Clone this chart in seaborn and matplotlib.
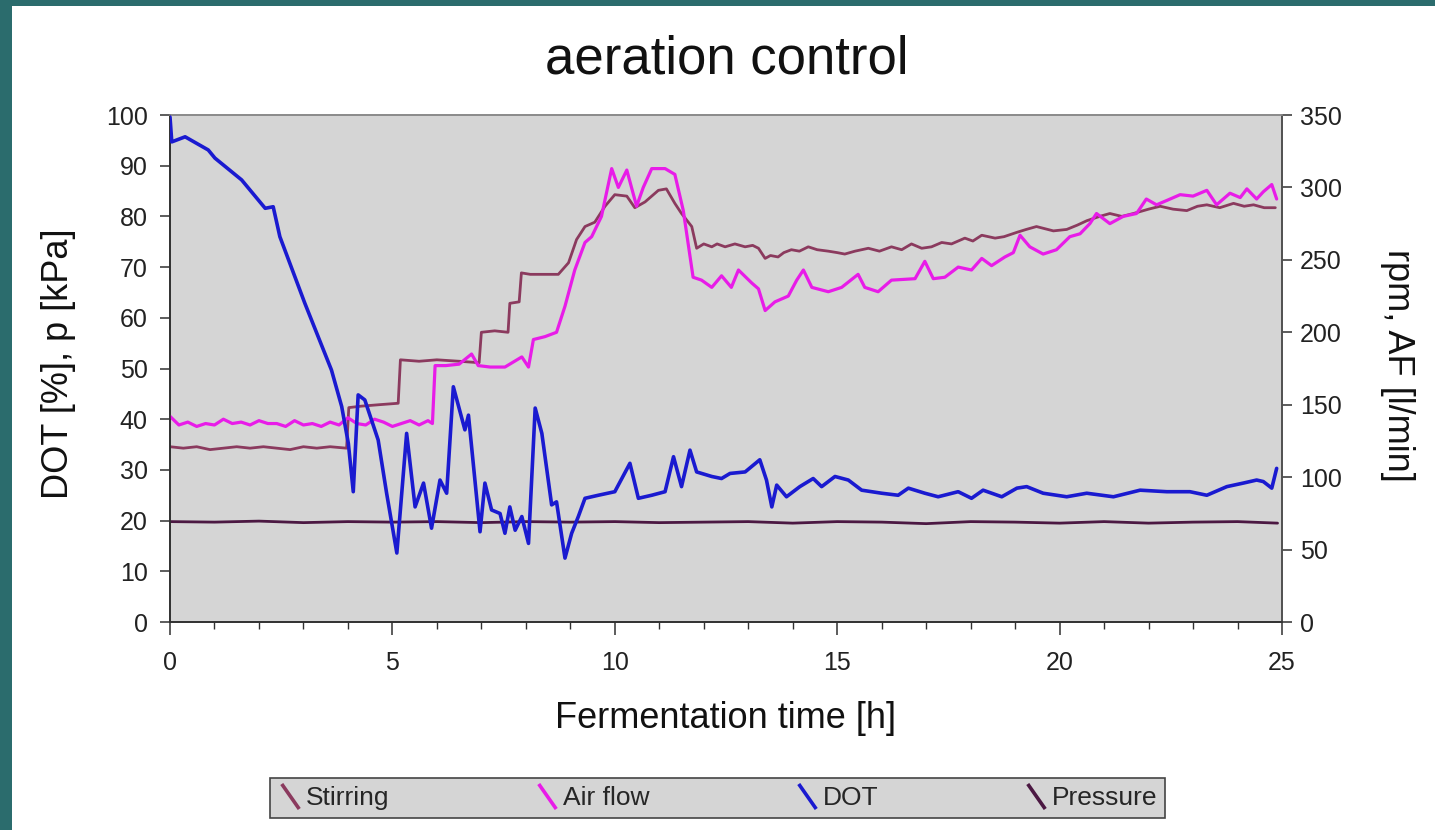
import matplotlib
matplotlib.use("Agg")
import matplotlib.pyplot as plt
import seaborn as sns
from matplotlib.lines import Line2D
from matplotlib.path import Path
from matplotlib.patches import Rectangle
from matplotlib.ticker import MultipleLocator
from matplotlib import font_manager

# ---------------- data ----------------
stir_t = [0.0, 0.3, 0.6, 0.9, 1.2, 1.5, 1.8, 2.1, 2.4, 2.7, 3.0, 3.3, 3.6, 3.97,
          4.02, 4.3, 4.7, 5.13, 5.18, 5.6, 6.0, 6.5, 6.95, 7.0, 7.3, 7.6, 7.64, 7.85,
          7.9, 8.1, 8.4, 8.73, 8.96, 9.14, 9.33, 9.55, 9.78, 10.0, 10.27, 10.45, 10.68,
          10.98, 11.16, 11.35, 11.5, 11.73, 11.84, 12.0, 12.18, 12.3, 12.48, 12.7, 12.93,
          13.1, 13.23, 13.38, 13.5, 13.67, 13.8, 13.97, 14.15, 14.35, 14.55, 14.8, 15.0,
          15.17, 15.4, 15.7, 15.95, 16.22, 16.45, 16.67, 16.9, 17.12, 17.35, 17.57, 17.87,
          18.05, 18.25, 18.55, 18.75, 19.04, 19.25, 19.48, 19.86, 20.16, 20.4, 20.61,
          20.9, 21.13, 21.4, 21.66, 22.0, 22.26, 22.55, 22.86, 23.1, 23.31, 23.6, 23.91,
          24.15, 24.36, 24.6, 24.85]
stir_v = [121, 120, 121, 119, 120, 121, 120, 121, 120, 119, 121, 120, 121, 120,
          148, 149, 150, 151, 181, 180, 181, 180, 179, 200, 201, 200, 220, 221,
          241, 240, 240, 240, 248, 264, 273, 276, 287, 295, 294, 286, 290,
          298, 299, 289, 282, 273, 258, 261, 259, 261, 259, 261, 259,
          260, 258, 251, 253, 252, 255, 257, 256, 259, 257, 256, 255,
          254, 256, 258, 256, 259, 257, 261, 258, 259, 262, 261, 265,
          263, 267, 265, 266, 269, 271, 273, 270, 271, 274, 277,
          280, 282, 280, 282, 285, 287, 285, 284, 287, 288, 286, 289,
          287, 288, 286, 286]

air_t = [0.0, 0.2, 0.4, 0.6, 0.8, 1.0, 1.2, 1.4, 1.6, 1.8, 2.0, 2.2, 2.4, 2.6, 2.8,
         3.0, 3.2, 3.4, 3.6, 3.8, 4.0, 4.2, 4.4, 4.6, 4.8, 5.0, 5.2, 5.4, 5.6, 5.8,
         5.9, 5.96, 6.2, 6.5, 6.78, 6.93, 7.2, 7.53, 7.91, 8.06,
         8.17, 8.43, 8.69, 8.88, 9.10, 9.33, 9.48, 9.70, 9.93, 10.08,
         10.27, 10.49, 10.64, 10.83, 11.13, 11.35, 11.54, 11.76, 11.95, 12.18,
         12.40, 12.62, 12.78, 13.08, 13.23, 13.38, 13.60, 13.90, 14.09, 14.24,
         14.43, 14.80, 15.10, 15.47, 15.62, 15.92, 16.22, 16.75, 16.97, 17.16,
         17.42, 17.72, 18.02, 18.25, 18.47, 18.77, 18.96, 19.11, 19.33, 19.63,
         19.93, 20.23, 20.46, 20.68, 20.83, 21.13, 21.43, 21.73, 21.95, 22.18,
         22.41, 22.71, 23.0, 23.31, 23.53, 23.83, 24.06, 24.21, 24.43, 24.58,
         24.77, 24.88]
air_v = [142, 136, 138, 135, 137, 136, 140, 137, 138, 136, 139, 137, 137, 135, 139,
         136, 137, 135, 138, 136, 141, 137, 136, 140, 138, 135, 137, 139, 136, 139,
         137, 177, 177, 178, 185, 177, 176, 176, 183, 176,
         195, 197, 200, 218, 243, 262, 266, 280, 313, 300,
         312, 287, 300, 313, 313, 309, 284, 238, 236, 231,
         239, 231, 243, 234, 230, 215, 221, 225, 236, 243,
         231, 228, 231, 240, 231, 228, 236, 237, 249, 237,
         238, 245, 243, 251, 246, 252, 255, 267, 259, 254,
         257, 266, 268, 275, 282, 275, 280, 282, 292, 288,
         291, 295, 294, 298, 288, 296, 293, 299, 292, 297,
         302, 292]

dot_t = [0, 0.04, 0.34, 0.86, 1.01, 1.61, 2.14, 2.32, 2.47, 3.03,
         3.33, 3.63, 3.86, 4.01, 4.12, 4.23, 4.38, 4.68, 4.87, 5.10,
         5.32, 5.51, 5.70, 5.88, 6.07, 6.22, 6.37, 6.63, 6.71, 6.97,
         7.08, 7.23, 7.42, 7.53, 7.64, 7.76, 7.91, 8.06, 8.21, 8.36,
         8.58, 8.69, 8.88, 9.03, 9.18, 9.33, 9.63, 10.0, 10.34, 10.53,
         10.83, 11.13, 11.32, 11.50, 11.69, 11.84, 12.18, 12.40, 12.59, 12.93,
         13.26, 13.41, 13.53, 13.64, 13.86, 14.16, 14.46, 14.65, 14.95, 15.25,
         15.55, 16.0, 16.37, 16.60, 16.97, 17.27, 17.72, 18.02, 18.28, 18.70,
         19.04, 19.26, 19.63, 20.16, 20.61, 21.21, 21.81, 22.41, 22.93, 23.31,
         23.76, 24.13, 24.43, 24.58, 24.77, 24.88]
dot_v = [99.6, 94.7, 95.7, 93.1, 91.5, 87.2, 81.6, 81.9, 76.0, 62.9,
         56.3, 49.7, 42.5, 35.2, 25.7, 44.8, 43.8, 35.9, 25.4, 13.6,
         37.2, 22.7, 27.4, 18.5, 28.0, 25.4, 46.4, 37.9, 40.8, 17.8,
         27.4, 22.1, 21.4, 17.5, 22.7, 18.1, 20.8, 15.5, 42.2, 37.2,
         23.1, 23.7, 12.6, 17.5, 20.8, 24.4, 25.0, 25.7, 31.3, 24.4,
         25.0, 25.7, 32.6, 26.7, 33.9, 29.6, 28.7, 28.3, 29.3, 29.6,
         32.0, 28.0, 22.7, 27.0, 24.7, 26.7, 28.3, 26.7, 28.7, 28.0,
         26.0, 25.4, 25.0, 26.4, 25.4, 24.7, 25.7, 24.4, 26.0, 24.7,
         26.4, 26.7, 25.4, 24.7, 25.4, 24.7, 26.0, 25.7, 25.7, 25.0,
         26.7, 27.4, 28.0, 27.7, 26.4, 30.3]

pres_t = [0, 1, 2, 3, 4, 5, 6, 7, 8, 9, 10, 11, 12, 13, 14, 15, 16, 17, 18, 19,
          20, 21, 22, 23, 24, 24.9]
pres_v = [19.8, 19.7, 19.9, 19.6, 19.8, 19.7, 19.8, 19.6, 19.8, 19.7, 19.8, 19.6,
          19.7, 19.8, 19.5, 19.8, 19.7, 19.4, 19.8, 19.7, 19.5, 19.8, 19.5, 19.7,
          19.8, 19.5]

series_names = ["Stirring", "Air flow", "DOT", "Pressure"]
xticks = [0, 5, 10, 15, 20, 25]
title = "aeration control"
xlabel = "Fermentation time [h]"
ylabel_left = "DOT [%], p [kPa]"
ylabel_right = "rpm, AF [l/min]"

# ---------------- style ----------------
sns.set_style("ticks")
plt.rcParams["font.family"] = ["Liberation Sans", "DejaVu Sans"]
installed = {f.name for f in font_manager.fontManager.ttflist}
legend_family = ["Liberation Sans Narrow"] if "Liberation Sans Narrow" in installed else ["Liberation Sans"]

c_stir = "#8B3A5E"
c_air = "#E81CE8"
c_dot = "#1A1AD0"
c_pres = "#4B1842"

W, H = 1435, 830
fig = plt.figure(figsize=(W / 100, H / 100), dpi=100, facecolor="#2B6C6D")
fig.patches.append(Rectangle((12 / W, 0), 1 - 12 / W, 1 - 6 / H, transform=fig.transFigure,
                             facecolor="white", edgecolor="none", zorder=-10))

L, R, T, B = 170, 1282, 115, 622
ax = fig.add_axes([L / W, 1 - B / H, (R - L) / W, (B - T) / H])
ax2 = ax.twinx()
ax2.set_zorder(1)
ax.set_zorder(2)
ax.patch.set_visible(False)
ax2.patch.set_visible(True)
ax2.patch.set_facecolor("#D5D5D5")

sns.lineplot(x=stir_t, y=stir_v, ax=ax2, color=c_stir, linewidth=2.0, zorder=2)
sns.lineplot(x=air_t, y=air_v, ax=ax2, color=c_air, linewidth=2.3, zorder=3)
sns.lineplot(x=pres_t, y=pres_v, ax=ax, color=c_pres, linewidth=2.0, zorder=2)
sns.lineplot(x=dot_t, y=dot_v, ax=ax, color=c_dot, linewidth=2.6, zorder=3)

ax.set_xlim(0, 25)
ax.set_ylim(0, 100)
ax2.set_ylim(0, 350)
ax.set_xticks(xticks)
ax.xaxis.set_minor_locator(MultipleLocator(1))
ax.yaxis.set_major_locator(MultipleLocator(10))
ax2.yaxis.set_major_locator(MultipleLocator(50))

for a in (ax, ax2):
    for s in a.spines.values():
        s.set_visible(True)
        s.set_linewidth(1.2)
    a.spines["top"].set_color("#8A8A8A")
    a.spines["left"].set_color("#303030")
    a.spines["bottom"].set_color("#303030")
    a.spines["right"].set_color("#505050")

ax.tick_params(axis="x", which="major", direction="out", length=9, width=1.1,
               color="#303030", labelsize=18, pad=12, labelcolor="#222222")
ax.tick_params(axis="x", which="minor", direction="out", length=5, width=1.0, color="#303030")
ax.tick_params(axis="y", which="major", direction="out", length=7, width=1.1,
               color="#303030", labelsize=18, pad=9, labelcolor="#222222")
ax2.tick_params(axis="y", which="major", direction="out", length=7, width=1.1,
                color="#303030", labelsize=18, pad=6, labelcolor="#222222")

ax.set_xlabel(xlabel, fontsize=26, color="#111111")
ax.xaxis.set_label_coords(0.5, (B - 718) / (B - T))
ax.xaxis.label.set_va("center")
ax.set_ylabel(ylabel_left, fontsize=26, color="#111111")
ax.yaxis.set_label_coords((58 - L) / (R - L), 0.51)
ax.yaxis.label.set_va("center")
ax2.set_ylabel(ylabel_right, fontsize=26, color="#111111", rotation=270)
ax2.yaxis.set_label_coords((1397 - L) / (R - L), 0.507)
ax2.yaxis.label.set_va("center")
ax2.yaxis.label.set_ha("center")

fig.text(727 / W, 1 - 60 / H, title, fontsize=38, ha="center", va="center", color="#111111")

diag = Path([(-0.7, 1), (0.7, -1)], [Path.MOVETO, Path.LINETO])
handles = [Line2D([], [], color=c, marker=diag, linestyle="None", markersize=18,
                  markeredgewidth=2.6)
           for c in (c_stir, c_air, c_dot, c_pres)]
leg = fig.legend(handles, series_names, loc="lower left", ncol=4, mode="expand",
                 bbox_to_anchor=(270 / W, 1 - 818 / H, (1165 - 270) / W, 45 / H),
                 bbox_transform=fig.transFigure, frameon=True, fancybox=False,
                 prop={"family": legend_family, "size": 19},
                 handlelength=0.9, handletextpad=0.15, borderaxespad=0,
                 borderpad=0.3)
fr = leg.get_frame()
fr.set_facecolor("#D5D5D5")
fr.set_edgecolor("#444444")
fr.set_linewidth(1.2)
fr.set_alpha(1)

fig.savefig("out.png", dpi=100, facecolor=fig.get_facecolor())
